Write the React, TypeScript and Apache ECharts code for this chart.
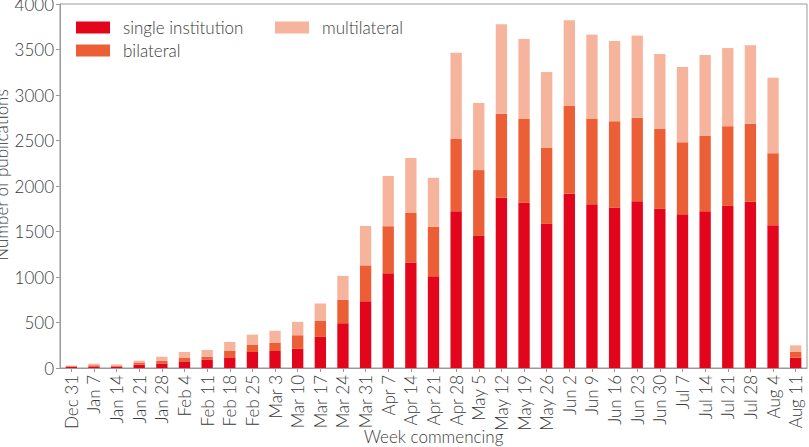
import React, { useEffect, useRef } from "react";
import * as echarts from "echarts";

const weeks = [
  "Dec 31", "Jan 7", "Jan 14", "Jan 21", "Jan 28", "Feb 4", "Feb 11", "Feb 18", "Feb 25",
  "Mar 3", "Mar 10", "Mar 17", "Mar 24", "Mar 31", "Apr 7", "Apr 14", "Apr 21", "Apr 28",
  "May 5", "May 12", "May 19", "May 26", "Jun 2", "Jun 9", "Jun 16", "Jun 23", "Jun 30",
  "Jul 7", "Jul 14", "Jul 21", "Jul 28", "Aug 4", "Aug 11",
];

const singleInstitution = [
  12, 18, 14, 36, 50, 73, 94, 117, 176, 187, 213, 342, 492, 734, 1040, 1158, 1007, 1723,
  1451, 1870, 1815, 1583, 1914, 1800, 1764, 1833, 1749, 1690, 1723, 1782, 1826, 1569, 114,
];

const bilateral = [
  8, 12, 11, 19, 28, 41, 31, 75, 81, 92, 147, 176, 258, 394, 518, 545, 544, 794,
  724, 923, 926, 835, 964, 941, 948, 916, 878, 791, 831, 875, 857, 791, 66,
];

const multilateral = [
  6, 17, 15, 25, 46, 62, 73, 95, 110, 130, 147, 191, 262, 433, 552, 605, 539, 948,
  738, 984, 875, 834, 944, 923, 882, 904, 824, 827, 886, 859, 863, 830, 69,
];

const seriesNames = ["single institution", "bilateral", "multilateral"];
const seriesColors = ["#e3051b", "#ec5f36", "#f7b49c"];
const yTicks = { min: 0, max: 4000, interval: 500 };

const FONT = "Lato, 'Open Sans', sans-serif";
const TEXT = "#3a3a3a";
const AXIS = "#9a9a9a";
const FS = 17;

export default function App() {
  const ref = useRef<HTMLDivElement>(null);

  useEffect(() => {
    if (!ref.current) return;
    const chart = echarts.init(ref.current, undefined, { renderer: "svg" });
    const data = [singleInstitution, bilateral, multilateral];
    const legendText = {
      color: TEXT,
      fontSize: FS,
      fontFamily: FONT,
      fontWeight: 300 as any,
      padding: [0, 0, 0, 8],
    };
    const nameStyle = { color: TEXT, fontSize: FS, fontFamily: FONT, fontWeight: 300 };
    chart.setOption({
      animation: false,
      textStyle: { fontFamily: FONT },
      grid: {
        left: 60,
        right: 2,
        top: 4,
        bottom: 79,
        show: true,
        borderColor: AXIS,
        borderWidth: 1,
        containLabel: false,
        outerBoundsMode: "none",
      },
      legend: [
        {
          data: [seriesNames[0], seriesNames[1]],
          orient: "vertical",
          left: 76,
          top: 19,
          padding: 0,
          itemWidth: 34,
          itemHeight: 12,
          itemGap: 6,
          icon: "rect",
          textStyle: legendText,
        },
        {
          data: [seriesNames[2]],
          orient: "vertical",
          left: 275,
          top: 19,
          padding: 0,
          itemWidth: 34,
          itemHeight: 12,
          icon: "rect",
          textStyle: legendText,
        },
      ],
      xAxis: {
        type: "category",
        data: weeks,
        name: "Week commencing",
        nameLocation: "middle",
        nameGap: 60,
        nameMoveOverlap: false,
        nameTextStyle: nameStyle,
        axisLine: { lineStyle: { color: AXIS, width: 1 } },
        axisTick: { show: true, alignWithLabel: true, length: 4, lineStyle: { color: AXIS } },
        axisLabel: {
          rotate: 90,
          interval: 0,
          margin: 7,
          color: TEXT,
          fontSize: FS,
          fontFamily: FONT,
          fontWeight: 300,
        },
      },
      yAxis: {
        type: "value",
        min: yTicks.min,
        max: yTicks.max,
        interval: yTicks.interval,
        name: "Number of publications",
        nameLocation: "middle",
        nameGap: 50,
        nameMoveOverlap: false,
        nameTextStyle: { ...nameStyle, padding: [0, 0, 0, 22] },
        splitLine: { show: false },
        axisLine: { show: true, lineStyle: { color: AXIS, width: 1 } },
        axisTick: { show: true, length: 4, lineStyle: { color: AXIS } },
        axisLabel: {
          margin: 6,
          color: TEXT,
          fontSize: FS,
          fontFamily: FONT,
          fontWeight: 300,
          formatter: (v: number) => String(v),
        },
      },
      series: seriesNames.map((name, i) => ({
        name,
        type: "bar",
        stack: "total",
        barWidth: "50%",
        data: data[i],
        itemStyle: { color: seriesColors[i] },
        emphasis: { disabled: true },
      })),
    });
    return () => chart.dispose();
  }, []);

  return (
    <div
      ref={ref}
      style={{ position: "fixed", left: 0, top: 0, width: 809, height: 447, background: "#fff" }}
    />
  );
}
